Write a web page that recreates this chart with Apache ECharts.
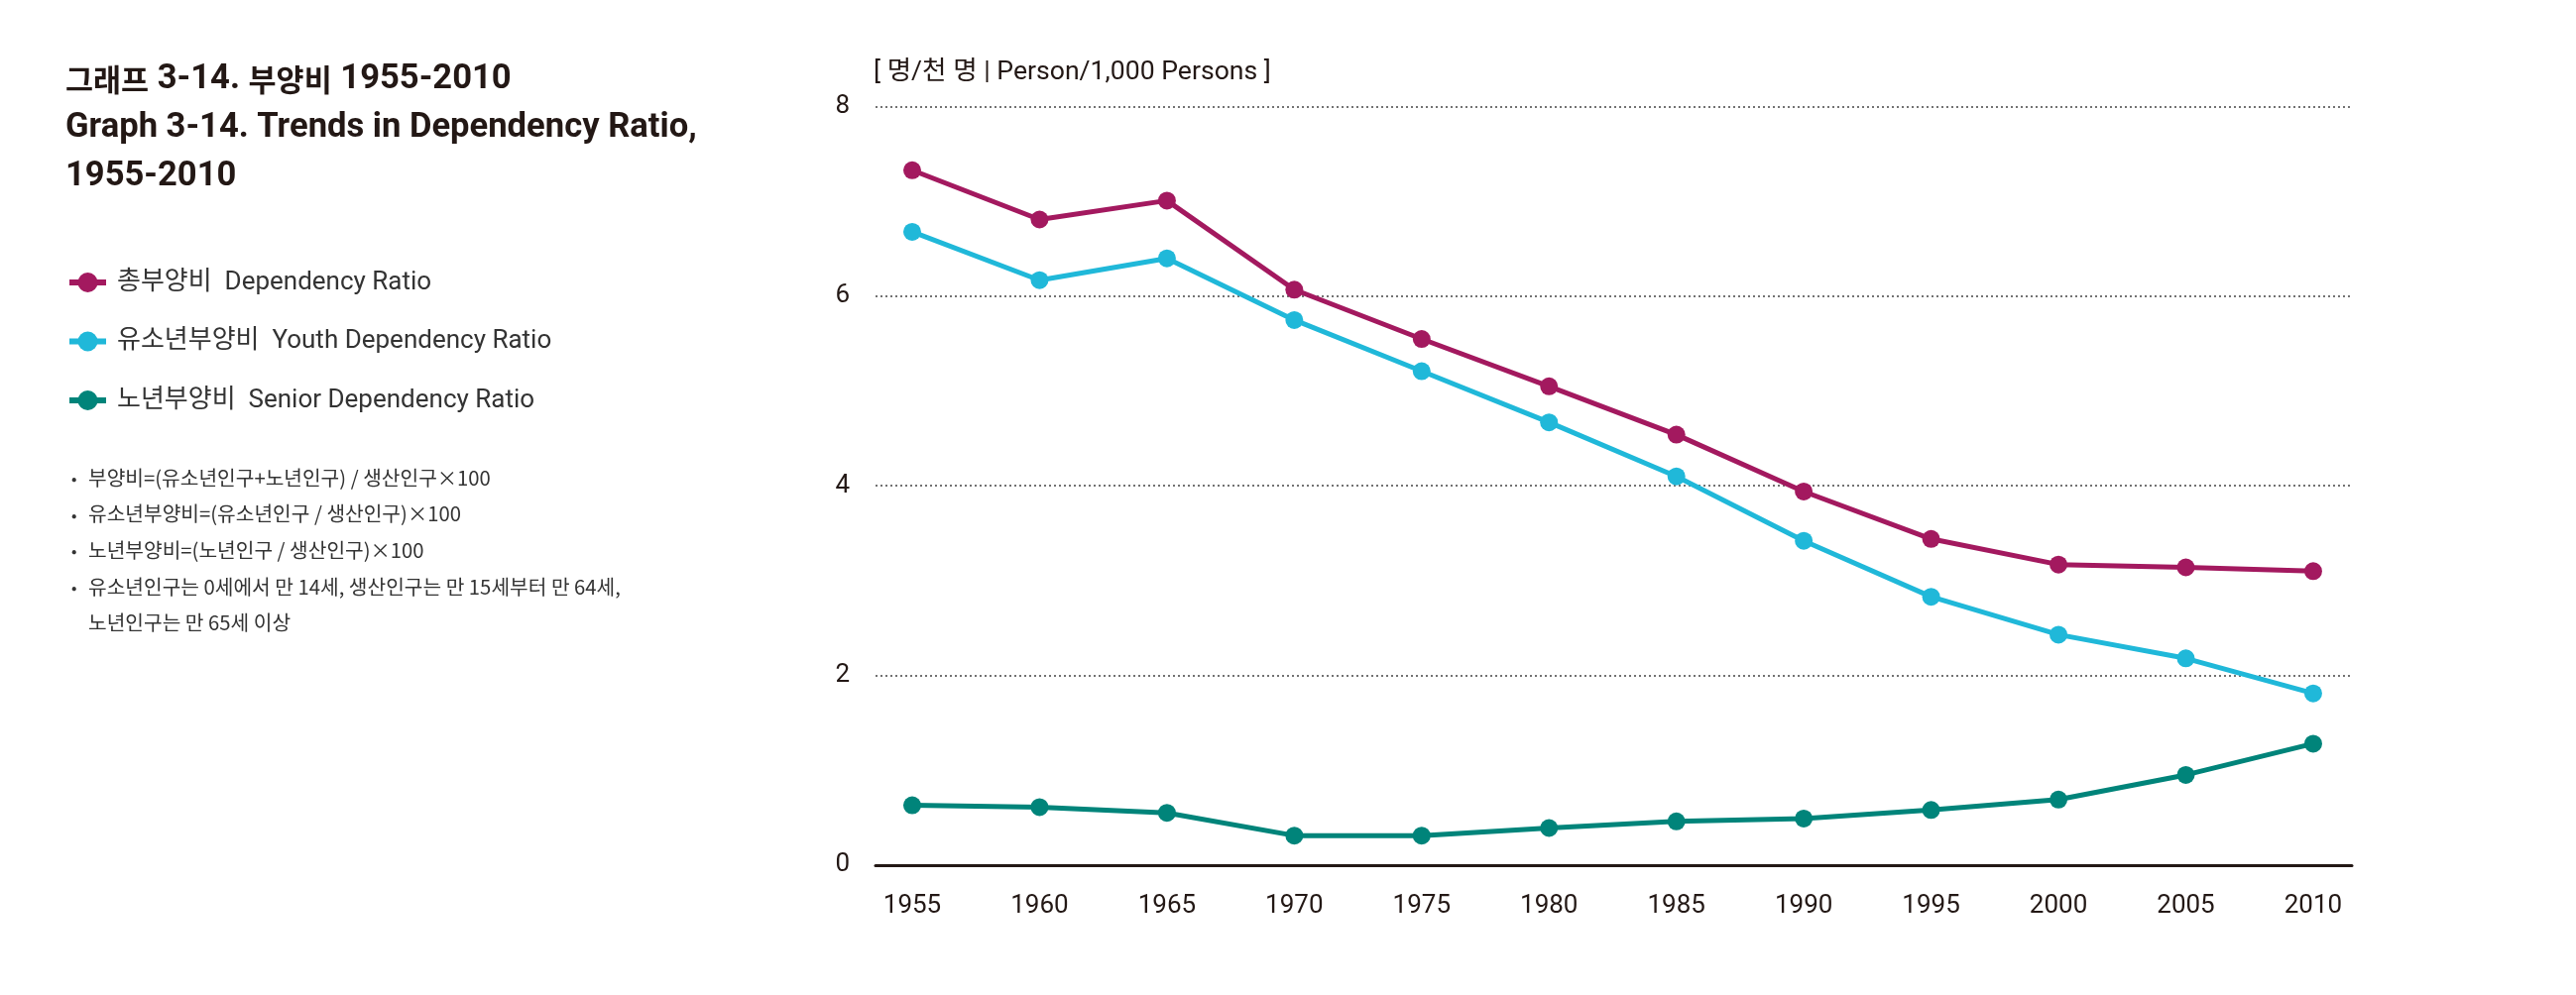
<!DOCTYPE html>
<html><head><meta charset="utf-8">
<script src="https://cdn.jsdelivr.net/npm/echarts@6/dist/echarts.min.js"></script>
<style>html,body{margin:0;padding:0;background:#fff}#c{width:2598px;height:1004px}</style>
</head><body><div id="c"></div>
<script>
const years = [1955,1960,1965,1970,1975,1980,1985,1990,1995,2000,2005,2010];
const totalRatio  = [7.33,6.81,7.01,6.07,5.55,5.05,4.54,3.94,3.44,3.17,3.14,3.10];
const youthRatio  = [6.68,6.17,6.40,5.75,5.21,4.67,4.10,3.42,2.83,2.43,2.18,1.81];
const seniorRatio = [0.63,0.61,0.55,0.31,0.31,0.39,0.46,0.49,0.58,0.69,0.95,1.28];
const seriesNames = ['총부양비  Dependency Ratio','유소년부양비  Youth Dependency Ratio','노년부양비  Senior Dependency Ratio'];
const yTicks = [0,2,4,6,8];
const titleText = '{k|그래프} 3-14. {k|부양비} 1955-2010\nGraph 3-14. Trends in Dependency Ratio,\n1955-2010';
const unitText = '[ 명/천 명 | Person/1,000 Persons ]';
const notes = [
  '부양비=(유소년인구+노년인구) / 생산인구×100',
  '유소년부양비=(유소년인구 / 생산인구)×100',
  '노년부양비=(노년인구 / 생산인구)×100',
  '유소년인구는 0세에서 만 14세, 생산인구는 만 15세부터 만 64세,',
  '노년인구는 만 65세 이상'
];
const colors = ['#A3195F','#20B8D9','#00847A'];
const FONT = "Roboto, 'Noto Sans CJK KR', sans-serif";
const KFONT = "'Noto Sans CJK KR', sans-serif";

const chart = echarts.init(document.getElementById('c'));
const mk = arr => years.map((y,i)=>[y,arr[i]]);
const dataSets = [totalRatio, youthRatio, seniorRatio];

const graphic = [];
notes.forEach((t,i)=>{
  const y = 487 + i*36.6;
  if (i < 4) graphic.push({type:'text', left:72, top:y-12, style:{text:'•', fontSize:16, fill:'#333', fontFamily:KFONT}});
  graphic.push({type:'text', left:89, top:y-15, style:{text:t, fontSize:20.3, fill:'#333', fontFamily:KFONT}});
});

chart.setOption({
  animation:false,
  backgroundColor:'#fff',
  title:{
    text:titleText, left:66, top:56, padding:0,
    textStyle:{fontFamily:FONT, fontSize:34.6, fontWeight:'bold', lineHeight:49, color:'#231815',
      rich:{k:{fontFamily:KFONT, fontSize:30.5, fontWeight:'bold', lineHeight:49, color:'#231815'}}}
  },
  legend:{
    orient:'vertical', left:67, top:272, padding:0, itemWidth:37, itemHeight:25, itemGap:33.5,
    data:seriesNames,
    lineStyle:{width:6},
    textStyle:{fontFamily:FONT, fontSize:26, color:'#333', lineHeight:25, padding:[0,0,0,6]}
  },
  graphic:graphic,
  grid:{left:883, right:226, top:107.7, bottom:131.2, containLabel:false},
  xAxis:{
    type:'value', min:1953.56, max:2011.52,
    axisLine:{show:true, onZero:true, lineStyle:{color:'#231815', width:3}},
    axisTick:{show:false},
    splitLine:{show:false},
    axisLabel:{customValues:years, margin:29, fontFamily:FONT, fontSize:26, color:'#231815', formatter:v=>String(v)}
  },
  yAxis:{
    type:'value', min:0, max:8, interval:2,
    name:unitText, nameLocation:'end', nameGap:21,
    nameTextStyle:{align:'left', fontFamily:FONT, fontSize:26.6, color:'#231815', padding:[0,0,0,-2]},
    axisLine:{show:false}, axisTick:{show:false},
    axisLabel:{margin:26, fontFamily:FONT, fontSize:26, color:'#231815', formatter:v=>yTicks.includes(v)?String(v):''},
    splitLine:{show:true, lineStyle:{type:[2,3], color:'#444', width:1.5}}
  },
  series: seriesNames.map((n,i)=>({
    name:n, type:'line', data:mk(dataSets[i]),
    symbol:'circle', symbolSize:18, showSymbol:true,
    lineStyle:{width:5, color:colors[i]},
    itemStyle:{color:colors[i]},
    z: 10 - i
  }))
});
</script></body></html>
